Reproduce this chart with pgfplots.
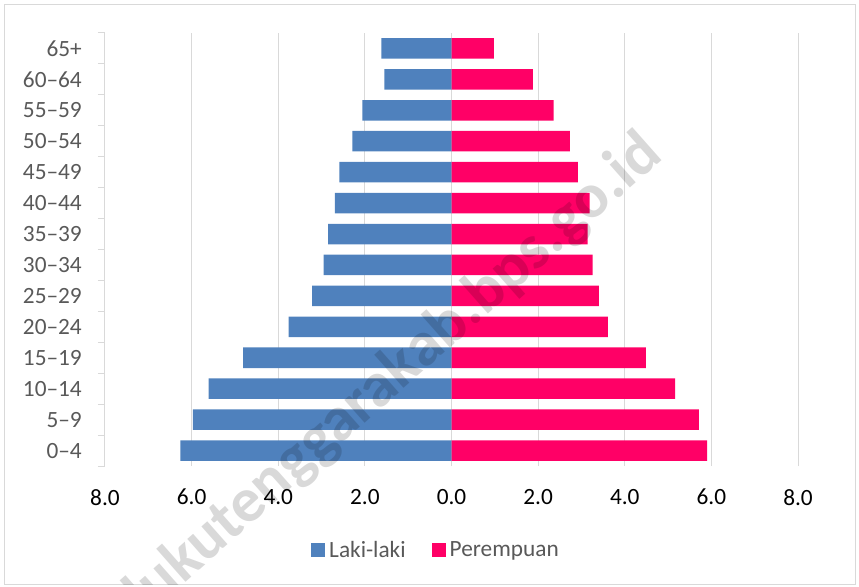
\documentclass[border=0pt]{standalone}
\usepackage{fontspec}
\setmainfont{Carlito}
\usepackage{pgfplots}
\pgfplotsset{compat=1.18}
\definecolor{male}{HTML}{4F81BD}
\definecolor{female}{HTML}{FF0066}
\definecolor{gridc}{HTML}{D9D9D9}
\definecolor{txt}{HTML}{595959}
\newcommand{\chartfont}{\fontsize{23.3bp}{28bp}\selectfont}
\begin{document}
\begin{tikzpicture}
\useasboundingbox (-105bp,-121bp) rectangle (754bp,466bp);
\draw[gridc, line width=1bp] (-100bp,-118bp) rectangle (750bp,461bp);
\begin{axis}[
  at={(0,0)}, anchor=south west,
  scale only axis, width=693bp, height=433bp,
  xmin=-8, xmax=8, ymin=-0.5, ymax=13.5,
  xtick={-8,-6,-4,-2,0,2,4,6,8},
  xticklabels={8.0,6.0,4.0,2.0,0.0,2.0,4.0,6.0,8.0},
  ytick={0,1,2,3,4,5,6,7,8,9,10,11,12,13},
  yticklabels={0--4,5--9,10--14,15--19,20--24,25--29,30--34,35--39,40--44,45--49,50--54,55--59,60--64,65+},
  minor ytick={-0.5,0.5,...,13.5},
  xmajorgrids, major grid style={gridc, line width=1bp},
  axis line style={draw=none},
  major tick length=0pt, minor tick length=7bp,
  tick align=outside, tick pos=left,
  minor tick style={gridc, line width=1bp},
  xticklabel style={font=\chartfont, text=black, inner sep=0pt, anchor=north, yshift=-23bp},
  yticklabel style={font=\chartfont, text=txt, inner sep=0pt, anchor=east, xshift=-23bp},
  legend columns=2,
  legend style={at={(0.4776,-0.194)}, anchor=center, draw=none, font=\chartfont, text=txt,
    /tikz/every even column/.append style={column sep=24bp},
    /tikz/every odd column/.append style={column sep=2bp}},
  clip=false,
]
\addplot[xbar, bar width=20.5bp, bar shift=0pt, fill=male, draw=none,
  legend image code/.code={\fill[male] (-2bp,-7bp) rectangle (12bp,7bp);}]
  coordinates {(-6.26,0) (-5.97,1) (-5.61,2) (-4.81,3) (-3.76,4) (-3.22,5) (-2.95,6)
               (-2.85,7) (-2.69,8) (-2.59,9) (-2.29,10) (-2.06,11) (-1.55,12) (-1.62,13)};
\addlegendentry{Laki-laki}
\addplot[xbar, bar width=20.5bp, bar shift=0pt, fill=female, draw=none,
  legend image code/.code={\fill[female] (-2bp,-7bp) rectangle (12bp,7bp);}]
  coordinates {(5.90,0) (5.71,1) (5.16,2) (4.49,3) (3.61,4) (3.40,5) (3.26,6)
               (3.14,7) (3.19,8) (2.92,9) (2.73,10) (2.36,11) (1.88,12) (0.98,13)};
\addlegendentry{Perempuan}
\end{axis}
\begin{scope}
\clip (-100bp,-118bp) rectangle (750bp,461bp);
\node[rotate=41.5, anchor=base east, font=\fontsize{63bp}{68bp}\selectfont\bfseries, text=black, opacity=0.15]
  at (562bp,310bp) {malukutenggarakab.bps.go.id};
\end{scope}
\end{tikzpicture}
\end{document}
